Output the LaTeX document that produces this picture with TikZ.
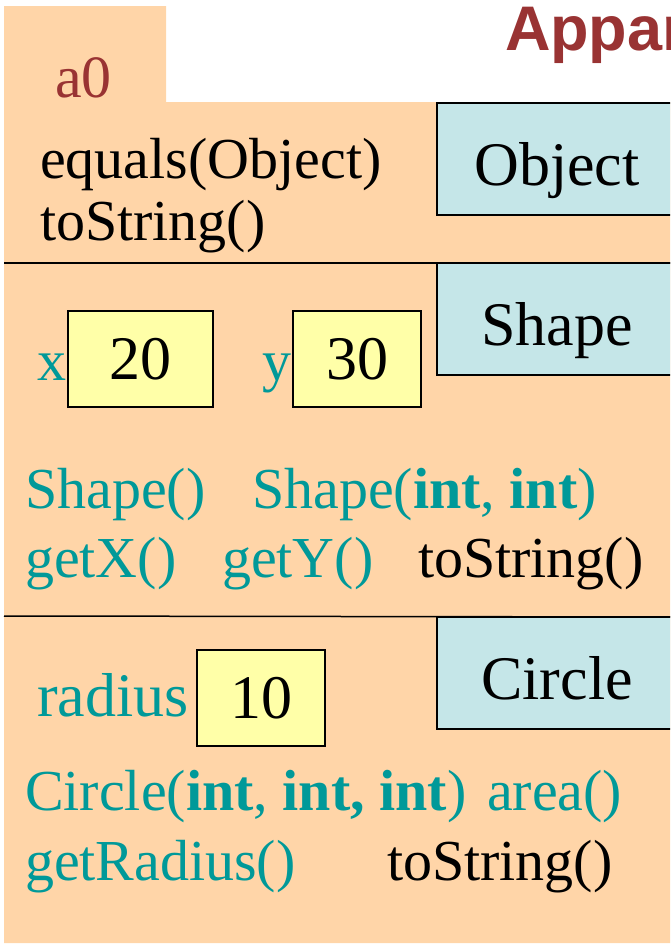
\documentclass[tikz,border=0pt]{standalone}
\usepackage{fontspec}
\setmainfont{Liberation Serif}
\newfontfamily\titlefont{Liberation Sans}
\usetikzlibrary{positioning}
\definecolor{peach}{RGB}{255,213,168}
\definecolor{paleblue}{RGB}{197,230,232}
\definecolor{paleyellow}{RGB}{255,255,168}
\definecolor{tealtext}{RGB}{0,153,153}
\definecolor{darkred}{RGB}{153,51,51}

\begin{document}
\begin{tikzpicture}[x=1pt, y=-1pt,
		every node/.style={inner sep=0pt, outer sep=0pt},
		body/.style={font=\fontsize{58}{66}\selectfont, anchor=base west},
		member/.style={body, text=tealtext},
		classbox/.style={draw, line width=2pt, fill=paleblue, minimum width=240pt, minimum height=112pt, text height=52pt, text depth=0pt, anchor=north west, font=\fontsize{62}{70}\selectfont},
		valbox/.style={draw, line width=2pt, fill=paleyellow, minimum height=96pt, anchor=north west, font=\fontsize{62}{70}\selectfont},
		divider/.style={line width=1.5pt}
	]
	\useasboundingbox (0,0) rectangle (670,948);
	\clip (0,0) rectangle (670,948);

	% Object body with its name tab
	\fill[peach] (4,6) -- (166,6) -- (166,102) -- (690,102) -- (690,943) -- (4,943) -- cycle;
	\node[font=\fontsize{60}{68}\selectfont, text=darkred, anchor=base west] (objname) at (55,97) {a0};
	\node[font=\titlefont\bfseries\fontsize{63}{70}\selectfont, text=darkred, anchor=base west] (title) at (505,50) {Appar};

	% Partitions
	\draw[divider] (4,263) -- (690,263);
	\draw[divider] (4,616) -- (690,617);

	% Object partition
	\node[classbox] (objectbox) at (437,103) {Object};
	\node[body] (equals) at (40,178) {equals(Object)};
	\node[body] (objtostring) at (40,240) {toString()};

	% Shape partition
	\node[classbox] (shapebox) at (437,263) {Shape};
	\node[valbox, minimum width=145pt] (xval) at (68,311) {20};
	\node[valbox, minimum width=128pt] (yval) at (293,311) {30};
	\node[member] (xlab) at (37,380) {x};
	\node[member] (ylab) at (262,380) {y};
	\node[member] (shapector) at (25,508) {Shape()};
	\node[member] (shapector2) at (252,508) {Shape(\textbf{int}, \textbf{int})};
	\node[member] (getx) at (25,577) {getX()};
	\node[member] (gety) at (222,577) {getY()};
	\node[body] (shapetostring) at (418,577) {toString()};

	% Circle partition
	\node[classbox] (circlebox) at (437,617) {Circle};
	\node[valbox, minimum width=128pt] (rval) at (197,650) {10};
	\node[member, font=\fontsize{62}{70}\selectfont] (rlab) at (37,716) {radius};
	\node[member] (circlector) at (25,810) {Circle(\textbf{int}, \textbf{int, int})};
	\node[member] (area) at (487,810) {area()};
	\node[member] (getradius) at (25,880) {getRadius()};
	\node[body] (circletostring) at (387,880) {toString()};
\end{tikzpicture}
\end{document}
